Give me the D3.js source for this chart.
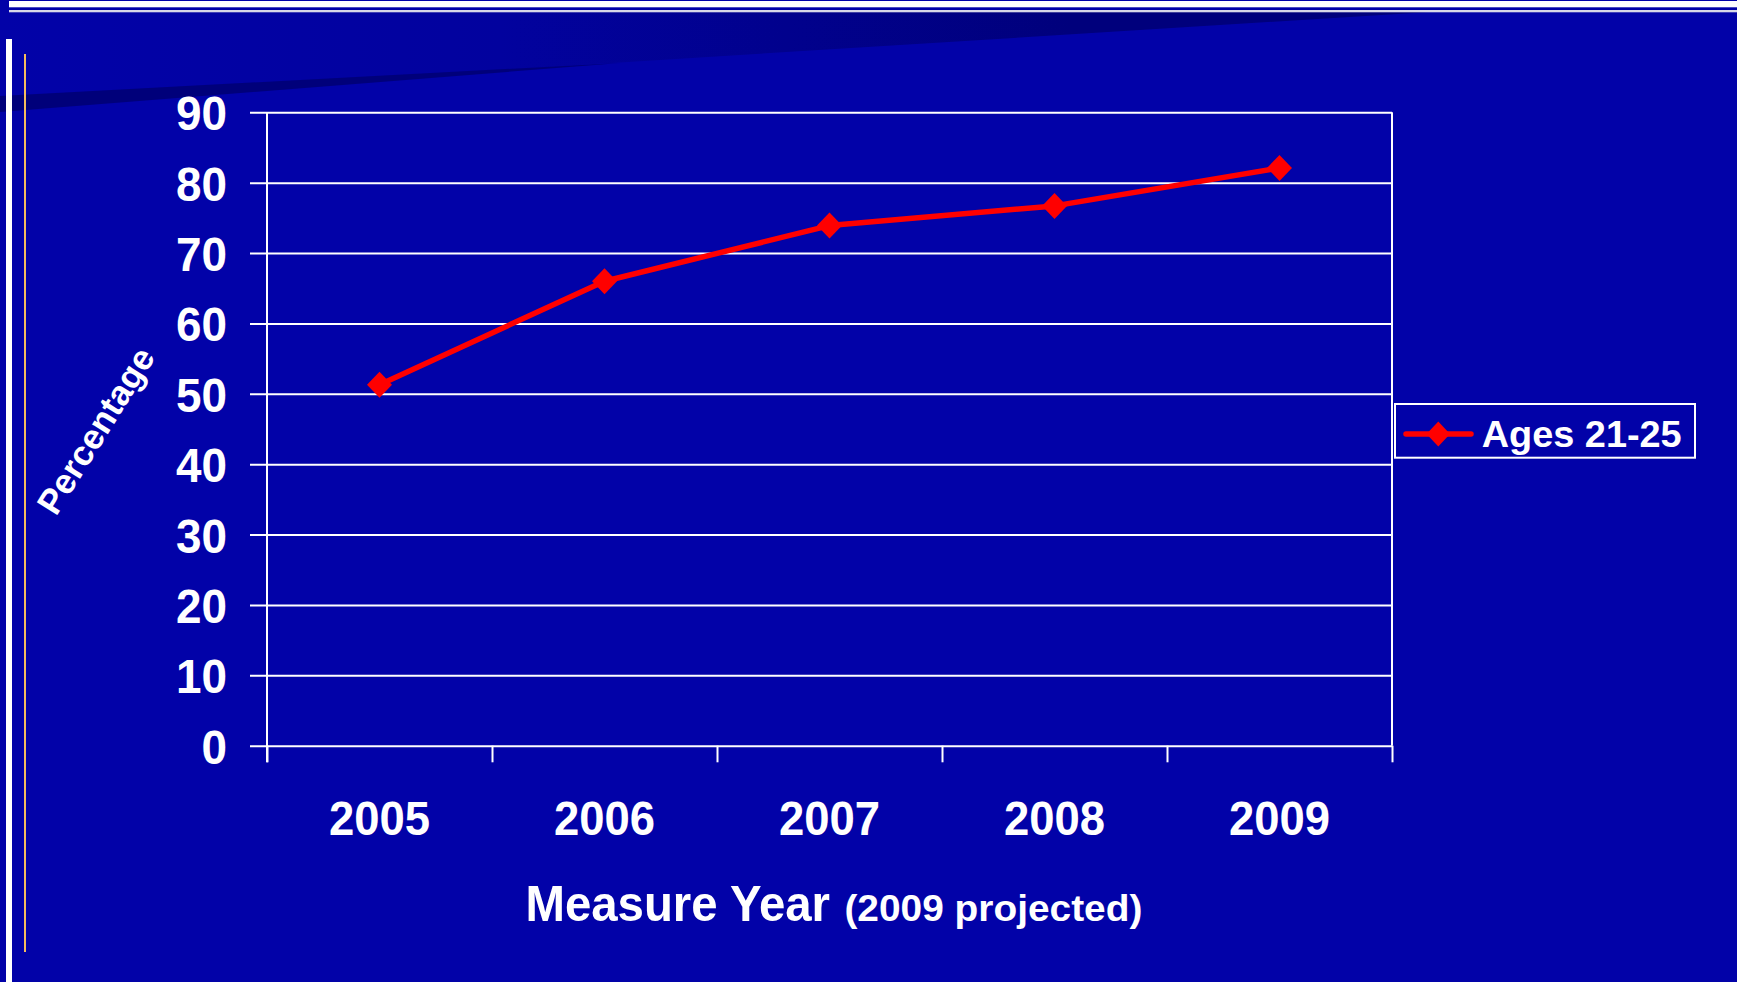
<!DOCTYPE html>
<html>
<head>
<meta charset="utf-8">
<script src="https://cdn.jsdelivr.net/npm/d3@7"></script>
<style>
  html, body { margin: 0; padding: 0; background: #0202A8; overflow: hidden; }
  svg { display: block; }
  text { font-family: "Liberation Sans", Arial, sans-serif; font-weight: bold; fill: #fff; }
</style>
</head>
<body>
<svg id="chart" width="1737" height="982"></svg>
<script>
// Measure years and the share of the 21-25 age group (2009 is projected)
const years = ["2005", "2006", "2007", "2008", "2009"];
const ages21to25 = [51.3, 66.0, 73.9, 76.7, 82.1];
const yTickValues = [0, 10, 20, 30, 40, 50, 60, 70, 80, 90];
const seriesName = "Ages 21-25";
const xTitle = "Measure Year";
const xTitleNote = "(2009 projected)";
const yTitle = "Percentage";

const W = 1737, H = 982;
const bg = "#0202A8", navy = "#00007C", red = "#FF0000";
const svg = d3.select("#chart");

// ---- slide decoration ----
const defs = svg.append("defs");
const grad = defs.append("linearGradient").attr("id", "wedge")
  .attr("x1", 0).attr("y1", 0).attr("x2", 1).attr("y2", 0);
grad.append("stop").attr("offset", "0").attr("stop-color", bg);
grad.append("stop").attr("offset", "0.35").attr("stop-color", "#02029E");
grad.append("stop").attr("offset", "0.75").attr("stop-color", navy);
grad.append("stop").attr("offset", "1").attr("stop-color", navy);

svg.append("rect").attr("width", W).attr("height", H).attr("fill", bg);
svg.append("path").attr("d", "M0,12 L1430,12 L0,101 Z").attr("fill", "url(#wedge)");
svg.append("path").attr("d", "M0,96 L620,63 L0,112 Z").attr("fill", "#00007A");
svg.append("rect").attr("x", 9).attr("y", 1).attr("width", W - 9).attr("height", 6.3).attr("fill", "#fff");
svg.append("rect").attr("x", 9).attr("y", 10).attr("width", W - 9).attr("height", 2.3).attr("fill", "#D8D8E8");
svg.append("rect").attr("x", 6).attr("y", 39).attr("width", 6).attr("height", H - 39).attr("fill", "#fff");
svg.append("rect").attr("x", 24).attr("y", 54).attr("width", 2).attr("height", 898).attr("fill", "#F4BC5C");

// ---- plot area ----
const plotL = 267, plotR = 1392, plotT = 112.3, plotB = 745.7;
const x = d3.scaleBand().domain(years).range([plotL, plotR]).padding(0);
const y = d3.scaleLinear().domain([0, 90]).range([plotB, plotT]);
const xEdges = d3.scaleLinear().domain([0, years.length]).range([plotL, plotR]);

// y axis: ticks to the left, gridlines across the plot
const yAxis = svg.append("g").attr("transform", `translate(${plotL},0)`)
  .call(d3.axisLeft(y).tickValues(yTickValues).tickSize(17).tickPadding(23));
yAxis.select(".domain").remove();
yAxis.selectAll(".tick line").attr("x1", plotR - plotL).attr("x2", -17)
  .attr("stroke", "#fff").attr("stroke-width", 2);
yAxis.selectAll(".tick text")
  .attr("dy", null).attr("y", 17.5)
  .style("font-size", "48px")
  .attr("font-family", null).attr("font-size", null)
  .attr("fill", "#fff")
  .attr("textLength", d => String(d).length * 25.5)
  .attr("lengthAdjust", "spacingAndGlyphs");
yAxis.attr("font-family", null).attr("font-size", null);

// vertical frame lines
svg.append("line").attr("x1", plotL).attr("x2", plotL).attr("y1", plotT).attr("y2", plotB + 16.6)
  .attr("stroke", "#fff").attr("stroke-width", 2);
svg.append("line").attr("x1", plotR).attr("x2", plotR).attr("y1", plotT).attr("y2", plotB)
  .attr("stroke", "#fff").attr("stroke-width", 2);

// x axis: tick marks at category boundaries, labels centred in each band
const xAxis = svg.append("g").attr("transform", `translate(0,${plotB})`)
  .call(d3.axisBottom(xEdges).tickValues(d3.range(years.length + 1)).tickSize(16.6).tickFormat(""));
xAxis.select(".domain").remove();
xAxis.selectAll(".tick line").attr("stroke", "#fff").attr("stroke-width", 2);

svg.append("g").selectAll("text").data(years).join("text")
  .attr("x", d => x(d) + x.bandwidth() / 2)
  .attr("y", 835)
  .attr("text-anchor", "middle")
  .style("font-size", "48px")
  .attr("textLength", 101)
  .attr("lengthAdjust", "spacingAndGlyphs")
  .text(d => d);

// axis titles
svg.append("text").attr("x", 525.5).attr("y", 920.7)
  .style("font-size", "50px")
  .attr("textLength", 304.5).attr("lengthAdjust", "spacingAndGlyphs")
  .text(xTitle);
svg.append("text").attr("x", 844.4).attr("y", 921)
  .style("font-size", "37px")
  .attr("textLength", 298).attr("lengthAdjust", "spacingAndGlyphs")
  .text(xTitleNote);
svg.append("text").attr("transform", "translate(106,437) rotate(-58)")
  .attr("text-anchor", "middle")
  .style("font-size", "35px")
  .text(yTitle);

// ---- series ----
const pts = years.map((yr, i) => [x(yr) + x.bandwidth() / 2, y(ages21to25[i])]);
svg.append("path")
  .attr("d", d3.line()(pts))
  .attr("fill", "none").attr("stroke", red).attr("stroke-width", 5.5)
  .attr("stroke-linejoin", "round");

const diamond = (cx, cy, hw, hh) => `M${cx},${cy - hh} L${cx + hw},${cy} L${cx},${cy + hh} L${cx - hw},${cy} Z`;
svg.append("g").selectAll("path").data(pts).join("path")
  .attr("d", d => diamond(d[0], d[1], 12.5, 13))
  .attr("fill", red);

// ---- legend ----
const lg = svg.append("g");
lg.append("rect").attr("x", 1395).attr("y", 404).attr("width", 300).attr("height", 53.7)
  .attr("fill", "none").attr("stroke", "#fff").attr("stroke-width", 2);
lg.append("line").attr("x1", 1406).attr("x2", 1471).attr("y1", 434).attr("y2", 434)
  .attr("stroke", red).attr("stroke-width", 5.5).attr("stroke-linecap", "round");
lg.append("path").attr("d", diamond(1438.3, 434, 11.7, 12.5)).attr("fill", red);
lg.append("text").attr("x", 1481.7).attr("y", 446.7)
  .style("font-size", "37px")
  .attr("textLength", 200).attr("lengthAdjust", "spacingAndGlyphs")
  .text(seriesName);
</script>
</body>
</html>
